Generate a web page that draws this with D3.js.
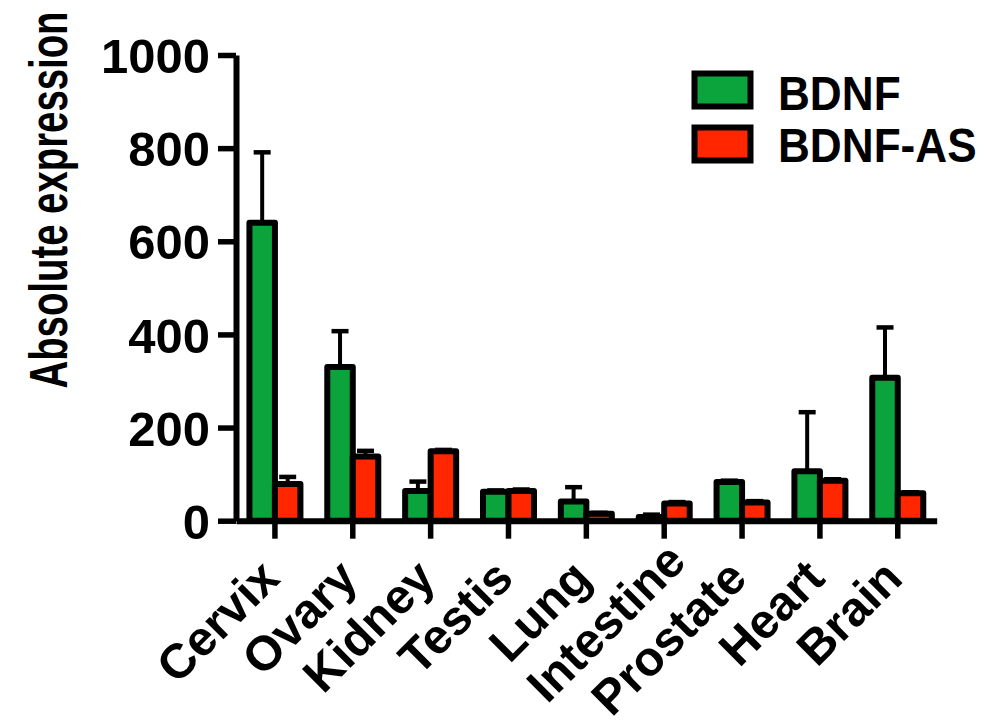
<!DOCTYPE html>
<html>
<head>
<meta charset="utf-8">
<script src="https://cdn.jsdelivr.net/npm/d3@7"></script>
<style>
  html, body { margin: 0; padding: 0; background: #fff; }
  svg { display: block; }
  text { font-family: "Liberation Sans", Arial, Helvetica, sans-serif; font-weight: bold; fill: #000; }
</style>
</head>
<body>
<svg id="chart" width="995" height="725"></svg>
<script>
// ---- data ----
const categories = ["Cervix", "Ovary", "Kidney", "Testis", "Lung", "Intestine", "Prostate", "Heart", "Brain"];
const seriesNames = ["BDNF", "BDNF-AS"];
const bdnf   = [640, 330, 64, 62, 41, 8, 83, 106, 307];
const bdnfAS = [79, 138, 149, 64, 15, 37, 39, 86, 59];
const bdnfErr   = [151, 77, 20, 3, 31, 5, 3, 127, 108];
const bdnfASErr = [15, 12, 3, 3, 2, 3, 3, 3, 2];
const yTicks = [0, 200, 400, 600, 800, 1000];
const yTitle = "Absolute expression";
const colors = ["#0ba33b", "#ff2600"];

(function () {
// ---- layout ----
const svg = d3.select("#chart");
const mLeft = 236, mRight = 936.7, mTop = 55, mBottom = 520.7;
const sw = 6;
const labelShift = { "Intestine": 24 };

const x = d3.scaleBand().domain(categories).range([mLeft, mRight]).padding(0);
const y = d3.scaleLinear().domain([0, 1000]).range([mBottom, mTop]);
const barW = 25.5;

const series = [
  { name: seriesNames[0], values: bdnf, err: bdnfErr, color: colors[0], offset: -barW },
  { name: seriesNames[1], values: bdnfAS, err: bdnfASErr, color: colors[1], offset: 0 }
];

// error bars (upper only)
series.forEach(s => {
  const g = svg.append("g");
  categories.forEach((c, i) => {
    const cx = x(c) + x.bandwidth() / 2 + s.offset + barW / 2;
    const yTop = y(s.values[i] + s.err[i]);
    g.append("line").attr("x1", cx).attr("x2", cx)
      .attr("y1", y(s.values[i])).attr("y2", yTop)
      .attr("stroke", "#000").attr("stroke-width", 4);
    g.append("line").attr("x1", cx - 8.5).attr("x2", cx + 8.5)
      .attr("y1", yTop).attr("y2", yTop)
      .attr("stroke", "#000").attr("stroke-width", 4.5);
  });
});

// bars
series.forEach(s => {
  svg.append("g").selectAll("rect").data(categories).join("rect")
    .attr("x", (c) => x(c) + x.bandwidth() / 2 + s.offset)
    .attr("width", barW)
    .attr("y", (c, i) => y(s.values[i]))
    .attr("height", (c, i) => mBottom - y(s.values[i]))
    .attr("fill", s.color)
    .attr("stroke", "#000")
    .attr("stroke-width", sw)
    .attr("stroke-linejoin", "round");
});

// y axis
const yAxis = svg.append("g").attr("transform", `translate(${mLeft},0)`)
  .call(d3.axisLeft(y).tickValues(yTicks).tickFormat(d3.format("d")).tickSize(18).tickSizeOuter(0).tickPadding(8));
yAxis.attr("font-family", null).attr("font-size", null);
yAxis.select(".domain").attr("stroke", "#000").attr("stroke-width", 6);
yAxis.selectAll(".tick line").attr("stroke", "#000").attr("stroke-width", 5.5);
yAxis.selectAll(".tick text").attr("font-size", 49).attr("dy", "0.36em");

// x axis
const xAxis = svg.append("g").attr("transform", `translate(0,${mBottom})`)
  .call(d3.axisBottom(x).tickSize(18).tickSizeOuter(0).tickFormat(""));
xAxis.select(".domain").attr("stroke", "#000").attr("stroke-width", 6);
xAxis.selectAll(".tick line").attr("stroke", "#000").attr("stroke-width", 5.5);

// x labels rotated
svg.append("g").selectAll("text").data(categories).join("text")
  .attr("transform", c => `translate(${x(c) + x.bandwidth() / 2 + 7},${mBottom + 60}) rotate(-45)`)
  .attr("text-anchor", "end")
  .attr("dx", c => labelShift[c] || 0)
  .attr("font-size", 48.5)
  .text(c => c);

// y title
svg.append("text")
  .attr("transform", `translate(67,200) rotate(-90) scale(0.71,1)`)
  .attr("text-anchor", "middle")
  .attr("font-size", 54)
  .text(yTitle);

// legend
const lg = svg.append("g");
series.forEach((s, i) => {
  const yy = 73.5 + i * 54;
  lg.append("rect").attr("x", 694.5).attr("y", yy).attr("width", 56).attr("height", 33)
    .attr("fill", s.color).attr("stroke", "#000").attr("stroke-width", sw);
  lg.append("text").attr("x", 778).attr("y", 110 + i * 52.5)
    .attr("font-size", 48)
    .attr("transform", `translate(${778 * (1 - 0.92)},0) scale(0.92,1)`)
    .text(s.name);
});
})();
</script>
</body>
</html>
